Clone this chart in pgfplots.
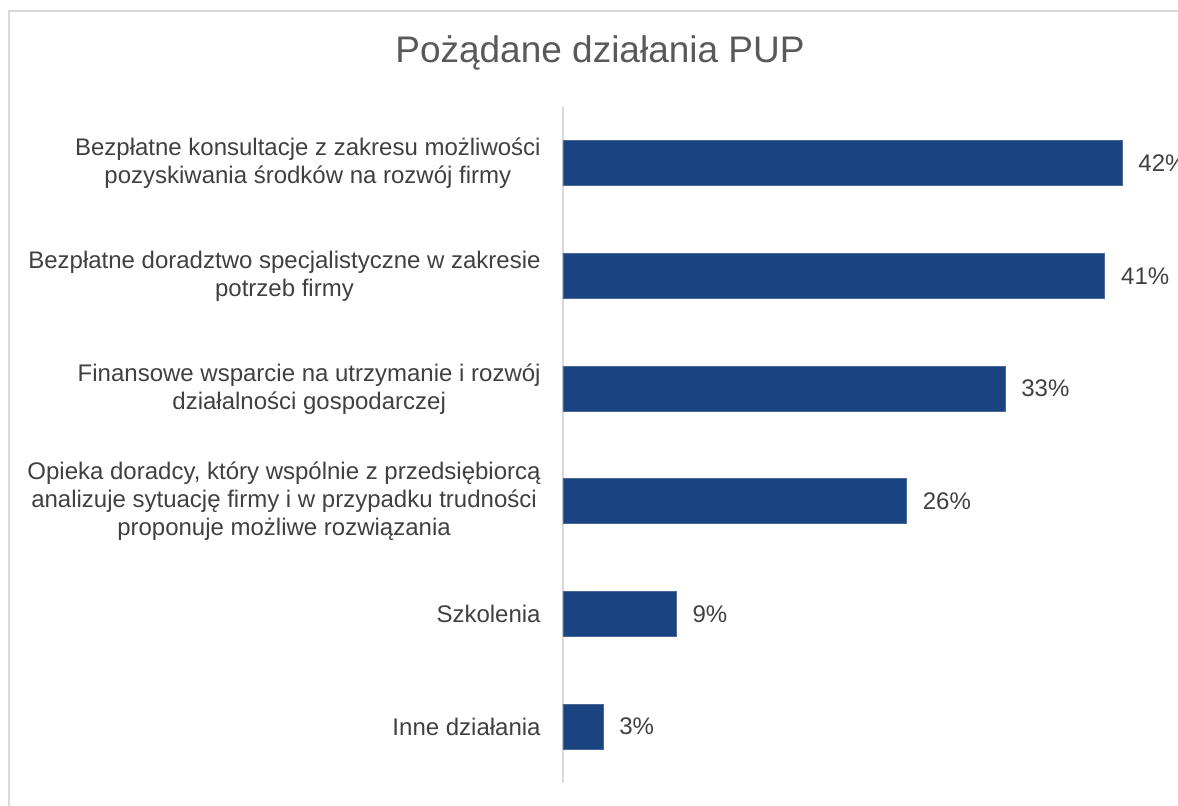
\documentclass[border=0pt]{standalone}
\usepackage{pgfplots}
\usepackage{pgfplotstable}
\pgfplotsset{compat=1.18}
\usepackage{fontspec}
\setmainfont{Liberation Sans}
\definecolor{barblue}{HTML}{1A4480}
\definecolor{txt}{HTML}{404040}
\definecolor{ttl}{HTML}{595959}
\definecolor{frame}{HTML}{D9D9D9}
\pgfplotstableread{
y x lab
0 42.0 42
1 40.7 41
2 33.2 33
3 25.8 26
4 8.5 9
5 3.0 3
}\datatab
\begin{document}
\begin{tikzpicture}
\useasboundingbox (0,0) rectangle (589pt,402.5pt);
\clip (0,0) rectangle (589pt,402.5pt);
\draw[frame, line width=1pt] (4.25pt,-2pt) -- (4.25pt,396.75pt) -- (600pt,396.75pt);
\node[color=ttl, font=\fontsize{18.5}{22}\selectfont] at (300pt,376pt) {Pożądane działania PUP};
\begin{axis}[
  at={(281.5pt,11pt)}, anchor=south west,
  scale only axis, width=299.5pt, height=338pt,
  xmin=0, xmax=45, ymin=-0.5, ymax=5.5,
  y dir=reverse,
  xbar, bar width=22.5pt,
  axis x line=none,
  axis y line*=left,
  y axis line style={frame, line width=1pt},
  ytick={0,1,2,3,4,5},
  major tick length=0pt,
  yticklabels={
    {Bezpłatne konsultacje z zakresu możliwości\\pozyskiwania środków na rozwój firmy},
    {Bezpłatne doradztwo specjalistyczne w zakresie\\potrzeb firmy},
    {Finansowe wsparcie na utrzymanie i rozwój\\działalności gospodarczej},
    {Opieka doradcy, który wspólnie z przedsiębiorcą\\analizuje sytuację firmy i w przypadku trudności\\proponuje możliwe rozwiązania},
    {Szkolenia},
    {Inne działania}},
  yticklabel style={align=center, color=txt, font=\fontsize{12}{14}\selectfont, inner sep=0pt, xshift=-11pt},
  point meta=explicit symbolic,
  nodes near coords={\pgfplotspointmeta\%},
  nodes near coords style={color=txt, font=\fontsize{12}{14}\selectfont, anchor=west, inner sep=0pt, xshift=8pt},
  clip=false,
]
\addplot[fill=barblue, draw=barblue!80!white] table[x=x, y=y, meta=lab] {\datatab};
\end{axis}
\end{tikzpicture}
\end{document}
